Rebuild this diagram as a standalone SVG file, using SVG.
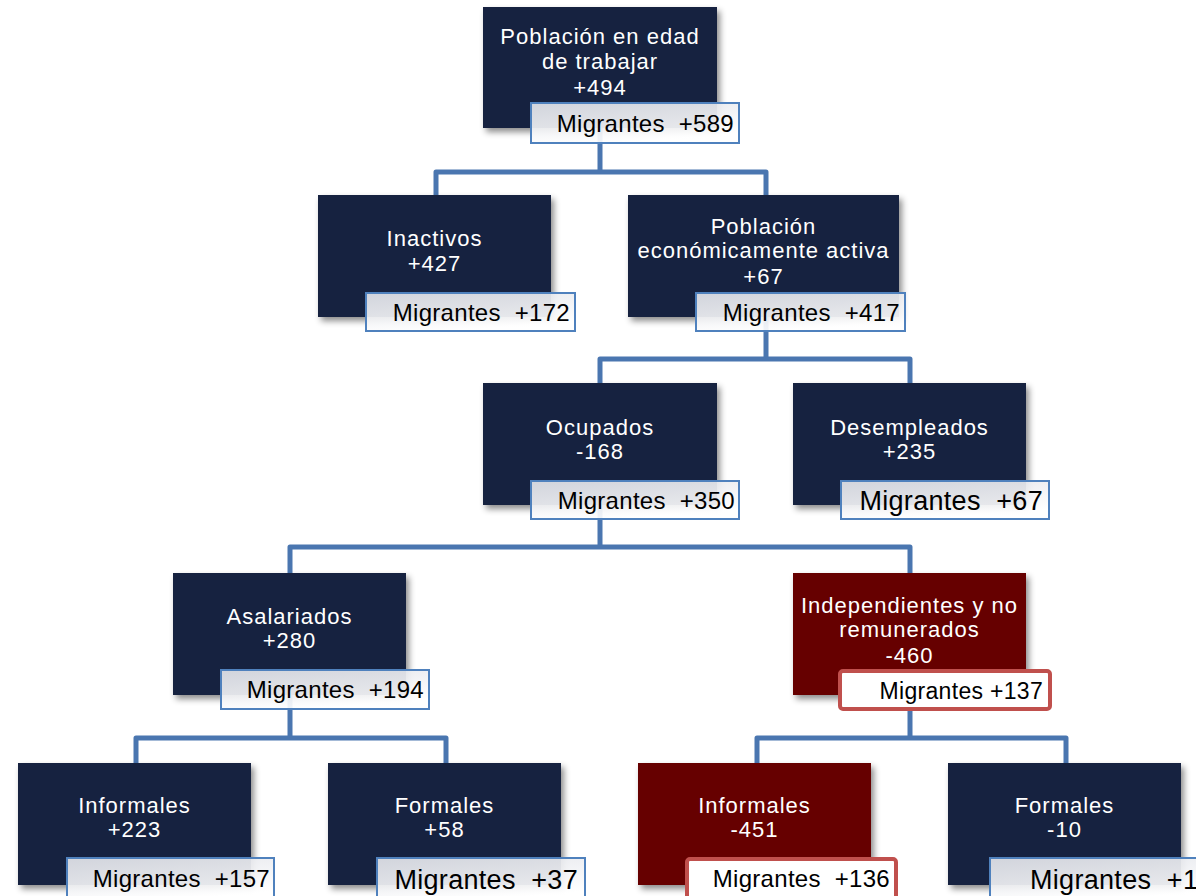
<svg xmlns="http://www.w3.org/2000/svg" width="1196" height="896" viewBox="0 0 1196 896">
<style>
.box{fill:#13243f;filter:url(#sh)}
.red{fill:#660000;filter:url(#sh)}
.lbl{fill:url(#lg);stroke:#4f81bd;stroke-width:2}
.rlbl{fill:#ffffff;stroke:#c0504d;stroke-width:4}
.t{font-family:"Liberation Sans",Arial,sans-serif;font-size:22px;fill:#ffffff;text-anchor:middle;letter-spacing:1px}
.m{font-family:"Liberation Sans",Arial,sans-serif;font-size:24px;fill:#000000;text-anchor:end;letter-spacing:0.3px}
.mb{font-size:27px}
.ms{font-size:23px}
.c{fill:none;stroke:#4a76b0;stroke-width:5;stroke-linejoin:round}
</style>
<defs>
<filter id="sh" x="-10%" y="-10%" width="125%" height="130%">
<feDropShadow dx="3" dy="4" stdDeviation="3" flood-color="#000" flood-opacity="0.45"/>
</filter>
<linearGradient id="lg" x1="0" y1="0" x2="0.4" y2="1">
<stop offset="0" stop-color="#e2e4ea" stop-opacity="0.92"/>
<stop offset="1" stop-color="#ffffff" stop-opacity="0.92"/>
</linearGradient>
</defs>
<rect width="1196" height="896" fill="#ffffff"/>
<g id="connectors">
<path class="c" d="M600 120 V172 M436 200 V172 H766 V200"/>
<path class="c" d="M766 310 V359 M600 388 V359 H910 V388"/>
<path class="c" d="M600 500 V547 M290 578 V547 H910 V578"/>
<path class="c" d="M290 690 V738 M136 768 V738 H446 V768"/>
<path class="c" d="M910 690 V738 M757 768 V738 H1066 V768"/>
</g>
<g id="n-pet">
<rect class="box" x="483" y="7" width="234" height="121"/>
<text class="t" x="600" y="44">Población en edad</text>
<text class="t" x="600" y="69">de trabajar</text>
<text class="t" x="600" y="95">+494</text>
<rect class="lbl" x="531" y="103" width="208" height="40"/>
<text class="m" x="734" y="132" xml:space="preserve">Migrantes  +589</text>
</g>
<g id="n-inactivos">
<rect class="box" x="318" y="195" width="233" height="122"/>
<text class="t" x="434.5" y="246">Inactivos</text>
<text class="t" x="434.5" y="271">+427</text>
<rect class="lbl" x="366" y="293" width="209" height="38"/>
<text class="m" x="570" y="321" xml:space="preserve">Migrantes  +172</text>
</g>
<g id="n-pea">
<rect class="box" x="628" y="195" width="271" height="122"/>
<text class="t" x="763.5" y="234">Población</text>
<text class="t" x="763.5" y="258">económicamente activa</text>
<text class="t" x="763.5" y="284">+67</text>
<rect class="lbl" x="696" y="293" width="209" height="38"/>
<text class="m" x="900" y="321" xml:space="preserve">Migrantes  +417</text>
</g>
<g id="n-ocupados">
<rect class="box" x="483" y="383" width="234" height="122"/>
<text class="t" x="600" y="435">Ocupados</text>
<text class="t" x="600" y="459">-168</text>
<rect class="lbl" x="531" y="481" width="208" height="38"/>
<text class="m" x="735" y="509" xml:space="preserve">Migrantes  +350</text>
</g>
<g id="n-desempleados">
<rect class="box" x="793" y="383" width="233" height="122"/>
<text class="t" x="909.5" y="435">Desempleados</text>
<text class="t" x="909.5" y="459">+235</text>
<rect class="lbl" x="841" y="481" width="208" height="38"/>
<text class="m mb" x="1043" y="510" xml:space="preserve">Migrantes  +67</text>
</g>
<g id="n-asalariados">
<rect class="box" x="173" y="573" width="233" height="122"/>
<text class="t" x="289.5" y="624">Asalariados</text>
<text class="t" x="289.5" y="648">+280</text>
<rect class="lbl" x="221" y="670" width="208" height="39"/>
<text class="m" x="424" y="698" xml:space="preserve">Migrantes  +194</text>
</g>
<g id="n-independientes">
<rect class="red" x="793" y="573" width="233" height="122"/>
<text class="t" x="909.5" y="613">Independientes y no</text>
<text class="t" x="909.5" y="637">remunerados</text>
<text class="t" x="909.5" y="663">-460</text>
<rect class="rlbl" x="840" y="671" width="210" height="38" rx="3"/>
<text class="m ms" x="1043" y="699">Migrantes +137</text>
</g>
<g id="n-asal-informales">
<rect class="box" x="18" y="763" width="233" height="122"/>
<text class="t" x="134.5" y="813">Informales</text>
<text class="t" x="134.5" y="837">+223</text>
<rect class="lbl" x="67" y="858" width="207" height="44"/>
<text class="m" x="270" y="887" xml:space="preserve">Migrantes  +157</text>
</g>
<g id="n-asal-formales">
<rect class="box" x="328" y="763" width="233" height="122"/>
<text class="t" x="444.5" y="813">Formales</text>
<text class="t" x="444.5" y="837">+58</text>
<rect class="lbl" x="377" y="858" width="208" height="44"/>
<text class="m mb" x="578" y="889" xml:space="preserve">Migrantes  +37</text>
</g>
<g id="n-ind-informales">
<rect class="red" x="638" y="763" width="233" height="122"/>
<text class="t" x="754.5" y="813">Informales</text>
<text class="t" x="754.5" y="837">-451</text>
<rect class="rlbl" x="687" y="859" width="209" height="44" rx="3"/>
<text class="m" x="890" y="887" xml:space="preserve">Migrantes  +136</text>
</g>
<g id="n-ind-formales">
<rect class="box" x="948" y="763" width="233" height="122"/>
<text class="t" x="1064.5" y="813">Formales</text>
<text class="t" x="1064.5" y="837">-10</text>
<rect class="lbl" x="990" y="858" width="220" height="44"/>
<text class="m mb" x="1030" y="889" style="text-anchor:start" xml:space="preserve">Migrantes  +1</text>
</g>
</svg>
